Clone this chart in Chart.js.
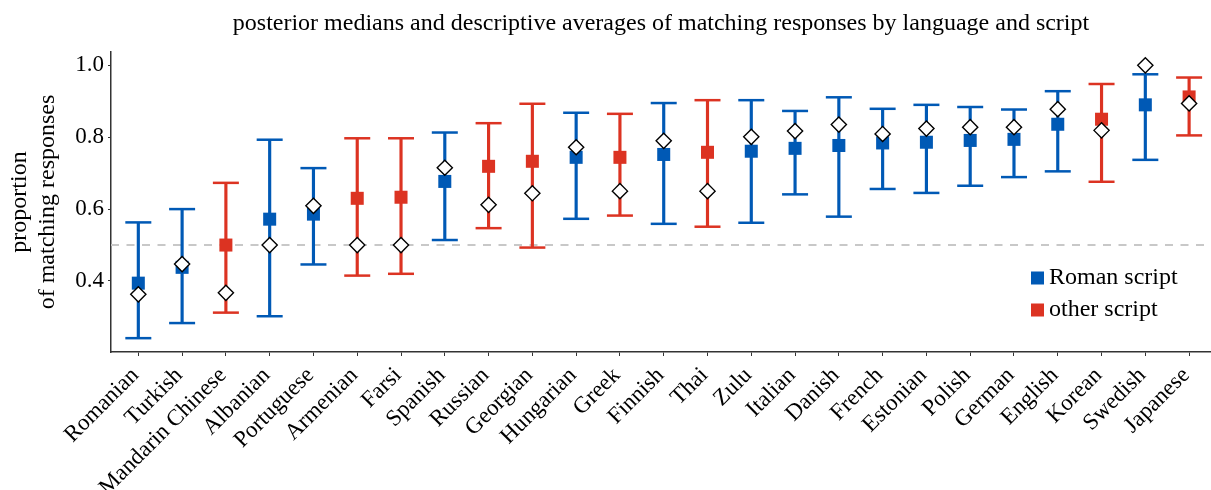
<!DOCTYPE html>
<html>
<head>
<meta charset="utf-8">
<script src="https://cdn.jsdelivr.net/npm/chart.js@4/dist/chart.umd.min.js"></script>
<style>
  html, body { margin: 0; padding: 0; background: #fff; overflow: hidden; }
  #wrap { width: 1211px; height: 490px; }
</style>
</head>
<body>
<div id="wrap"><canvas id="grafico"></canvas></div>
<script>
const idiomas = ["Romanian", "Turkish", "Mandarin Chinese", "Albanian", "Portuguese", "Armenian",
  "Farsi", "Spanish", "Russian", "Georgian", "Hungarian", "Greek", "Finnish", "Thai", "Zulu",
  "Italian", "Danish", "French", "Estonian", "Polish", "German", "English", "Korean", "Swedish", "Japanese"];
const escritura = ["Roman", "Roman", "other", "Roman", "Roman", "other", "other", "Roman", "other",
  "other", "Roman", "other", "Roman", "other", "Roman", "Roman", "Roman", "Roman", "Roman", "Roman",
  "Roman", "Roman", "other", "Roman", "other"];
const mediana = [0.394, 0.438, 0.500, 0.572, 0.586, 0.630, 0.633, 0.677, 0.719, 0.733, 0.744, 0.744,
  0.752, 0.758, 0.761, 0.769, 0.777, 0.784, 0.786, 0.791, 0.794, 0.836, 0.850, 0.890, 0.912];
const inferior = [0.241, 0.283, 0.312, 0.302, 0.446, 0.415, 0.420, 0.514, 0.547, 0.493, 0.573, 0.582,
  0.559, 0.551, 0.562, 0.641, 0.579, 0.656, 0.645, 0.665, 0.689, 0.705, 0.676, 0.737, 0.805];
const superior = [0.563, 0.600, 0.673, 0.793, 0.714, 0.797, 0.797, 0.813, 0.839, 0.893, 0.868, 0.865,
  0.895, 0.903, 0.903, 0.873, 0.911, 0.879, 0.890, 0.884, 0.877, 0.928, 0.948, 0.975, 0.966];
const promedio = [0.363, 0.447, 0.367, 0.500, 0.609, 0.500, 0.500, 0.715, 0.612, 0.644, 0.772, 0.650,
  0.790, 0.650, 0.801, 0.817, 0.835, 0.809, 0.824, 0.828, 0.828, 0.878, 0.819, 1.000, 0.894];
const ticksY = [0.4, 0.6, 0.8, 1.0];
const azar = 0.5;

const colores = { Roman: "#0059b5", other: "#dc3322" };
const etiquetasLeyenda = ["Roman script", "other script"];
const fuente = "'Liberation Serif', 'Times New Roman', serif";

const colorDe = i => colores[escritura[i]];
const xs = idiomas.map((_, i) => i);

// linea punteada de azar, titulo y leyenda
const extras = {
  id: "extras",
  beforeDatasetsDraw(chart) {
    const { ctx, chartArea, scales } = chart;
    const y = scales.y.getPixelForValue(azar);
    ctx.save();
    ctx.strokeStyle = "#c8c8c8";
    ctx.lineWidth = 2;
    ctx.setLineDash([8, 7.5]);
    ctx.beginPath();
    ctx.moveTo(chartArea.left, y);
    ctx.lineTo(chartArea.right, y);
    ctx.stroke();
    ctx.restore();
  },
  afterDraw(chart) {
    const { ctx, chartArea } = chart;
    ctx.save();
    ctx.fillStyle = "#000";
    ctx.font = "24px " + fuente;
    ctx.textAlign = "center";
    ctx.textBaseline = "alphabetic";
    ctx.fillText("posterior medians and descriptive averages of matching responses by language and script",
      (chartArea.left + chartArea.right) / 2, 30);

    const claves = ["Roman", "other"];
    ctx.font = "24px " + fuente;
    ctx.textAlign = "left";
    ctx.textBaseline = "middle";
    claves.forEach((k, j) => {
      const cy = 278 + j * 32;
      ctx.fillStyle = colores[k];
      ctx.fillRect(1031, cy - 6.5, 13, 13);
      ctx.fillStyle = "#000";
      ctx.fillText(etiquetasLeyenda[j], 1049, cy);
    });
    ctx.restore();
  }
};

new Chart(document.getElementById("grafico"), {
  type: "scatter",
  data: {
    datasets: [
      {
        type: "bar",
        data: xs.map(i => ({ x: i, y: [inferior[i], superior[i]] })),
        backgroundColor: xs.map(colorDe),
        barThickness: 2.5,
        order: 4
      },
      {
        data: xs.map(i => ({ x: i, y: inferior[i] })).concat(xs.map(i => ({ x: i, y: superior[i] }))),
        pointStyle: "line",
        pointRadius: 13,
        borderWidth: 2.5,
        borderColor: xs.map(colorDe).concat(xs.map(colorDe)),
        order: 3
      },
      {
        data: xs.map(i => ({ x: i, y: mediana[i] })),
        pointStyle: "rect",
        pointRadius: 9.2,
        borderWidth: 0,
        backgroundColor: xs.map(colorDe),
        order: 2
      },
      {
        data: xs.map(i => ({ x: i, y: promedio[i] })),
        pointStyle: "rectRot",
        pointRadius: 7.6,
        borderWidth: 1.4,
        borderColor: "#000",
        backgroundColor: "#fff",
        order: 1
      }
    ]
  },
  options: {
    responsive: true,
    maintainAspectRatio: false,
    animation: false,
    events: [],
    layout: { autoPadding: false, padding: { top: 52, left: 0, right: 0, bottom: 0 } },
    plugins: {
      legend: { display: false },
      tooltip: { enabled: false },
      title: { display: false }
    },
    scales: {
      x: {
        type: "linear",
        offset: false,
        min: -0.624,
        max: 24.5,
        afterBuildTicks: s => { s.ticks = xs.map(v => ({ value: v })); },
        afterFit: s => { s.height = 138; s.paddingLeft = 0; s.paddingRight = 0; },
        grid: { offset: false, drawOnChartArea: false, drawTicks: true, tickLength: 4, color: "#333" },
        border: { display: true, color: "#333", width: 1.5 },
        ticks: {
          autoSkip: false,
          minRotation: 45,
          maxRotation: 45,
          padding: 6,
          labelOffset: -3,
          color: "#000",
          font: { family: fuente, size: 23 },
          callback: v => idiomas[v]
        }
      },
      y: {
        min: 0.2025,
        max: 1.037,
        afterBuildTicks: s => { s.ticks = ticksY.map(v => ({ value: v })); },
        afterFit: s => { s.width = 111; },
        grid: { drawOnChartArea: false, drawTicks: true, tickLength: 3, color: "#333" },
        border: { display: true, color: "#333", width: 1.5 },
        ticks: {
          padding: 4,
          color: "#000",
          font: { family: fuente, size: 23 },
          callback: v => v.toFixed(1)
        },
        title: {
          display: true,
          text: ["proportion", "of matching responses"],
          color: "#000",
          font: { family: fuente, size: 24, lineHeight: 1.17 },
          padding: { top: 6, bottom: 0 }
        }
      }
    }
  },
  plugins: [extras]
});
</script>
</body>
</html>
